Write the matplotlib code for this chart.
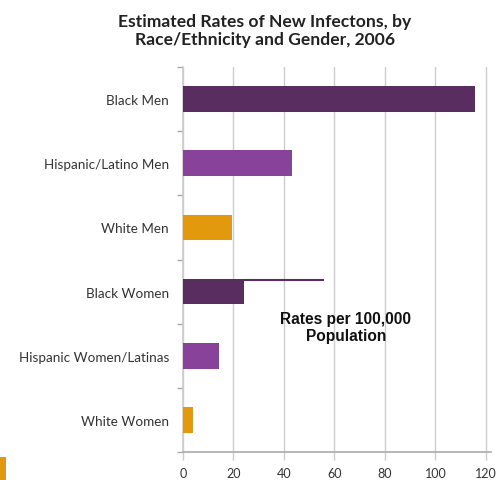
import matplotlib
matplotlib.use("Agg")
import matplotlib.pyplot as plt
from matplotlib.patches import Rectangle

categories = ["Black Men", "Hispanic/Latino Men", "White Men",
              "Black Women", "Hispanic Women/Latinas", "White Women"]
values = [115.7, 43.1, 19.6, 55.7, 14.4, 3.8]
# the reference draws the Black Women bar thick only up to here, then as a thin line
drawn_thick = [115.7, 43.1, 19.6, 24.2, 14.4, 3.8]
colors = ["#5a2d61", "#89429a", "#e3990c", "#5a2d61", "#89429a", "#e3990c"]
x_ticks = [0, 20, 40, 60, 80, 100, 120]
title = "Estimated Rates of New Infectons, by\nRace/Ethnicity and Gender, 2006"
note = "Rates per 100,000\nPopulation"

plt.rcParams['font.family'] = ['Lato', 'DejaVu Sans']

fig = plt.figure(figsize=(4.96, 4.81), dpi=100)
ax = fig.add_axes([183/496, 1-453/481, 308/496, 385/481])

ypos = list(range(len(categories)))
bar_h = 0.4
ax.barh(ypos, drawn_thick, height=bar_h, color=colors, edgecolor="none", zorder=3)
for y, v, t, c in zip(ypos, values, drawn_thick, colors):
    if v > t:
        ax.plot([t, v], [y - bar_h/2 + 0.015, y - bar_h/2 + 0.015], color=c, lw=1.5,
                solid_capstyle="butt", zorder=3)

ax.set_xlim(0, 122)
ax.set_ylim(5.5, -0.5)
ax.set_xticks(x_ticks)
ax.set_xticklabels([str(t) for t in x_ticks], fontsize=9, color="#333333")
ax.set_yticks(ypos)
ax.set_yticklabels(categories, fontsize=9.7, color="#333333")
ax.set_yticks([i - 0.5 for i in range(len(categories) + 1)], minor=True)
ax.tick_params(axis="y", which="major", length=0, pad=10)
ax.tick_params(axis="y", which="minor", length=4, color="#aaaaaa", width=1)
ax.tick_params(axis="x", length=6, color="#cccccc", width=1, pad=5)

ax.grid(axis="x", color="#cccccc", lw=1, zorder=0)
for s in ["top", "right"]:
    ax.spines[s].set_visible(False)
ax.spines["left"].set_color("#cccccc")
ax.spines["bottom"].set_color("#aaaaaa")
ax.spines["left"].set_linewidth(1.2)
ax.spines["bottom"].set_linewidth(1.2)

ax.add_patch(Rectangle((26.5, 2.835), 87.2, 1.03, facecolor="white",
                       edgecolor="none", zorder=1))
ax.text(64.5, 3.55, note, ha="center", va="center", fontsize=11.2, fontweight="bold",
        color="#111111", linespacing=1.2, family=["Liberation Sans", "DejaVu Sans"],
        zorder=4)

fig.text(265/496, 1-31/481, title, ha="center", va="center", fontsize=12.6,
         fontweight="bold", color="#222222", linespacing=1.2)

fig.patches.append(Rectangle((0, 0), 6/496, 23/481, transform=fig.transFigure,
                             facecolor="#e3990c", edgecolor="none"))

fig.savefig("out.png", dpi=100)
